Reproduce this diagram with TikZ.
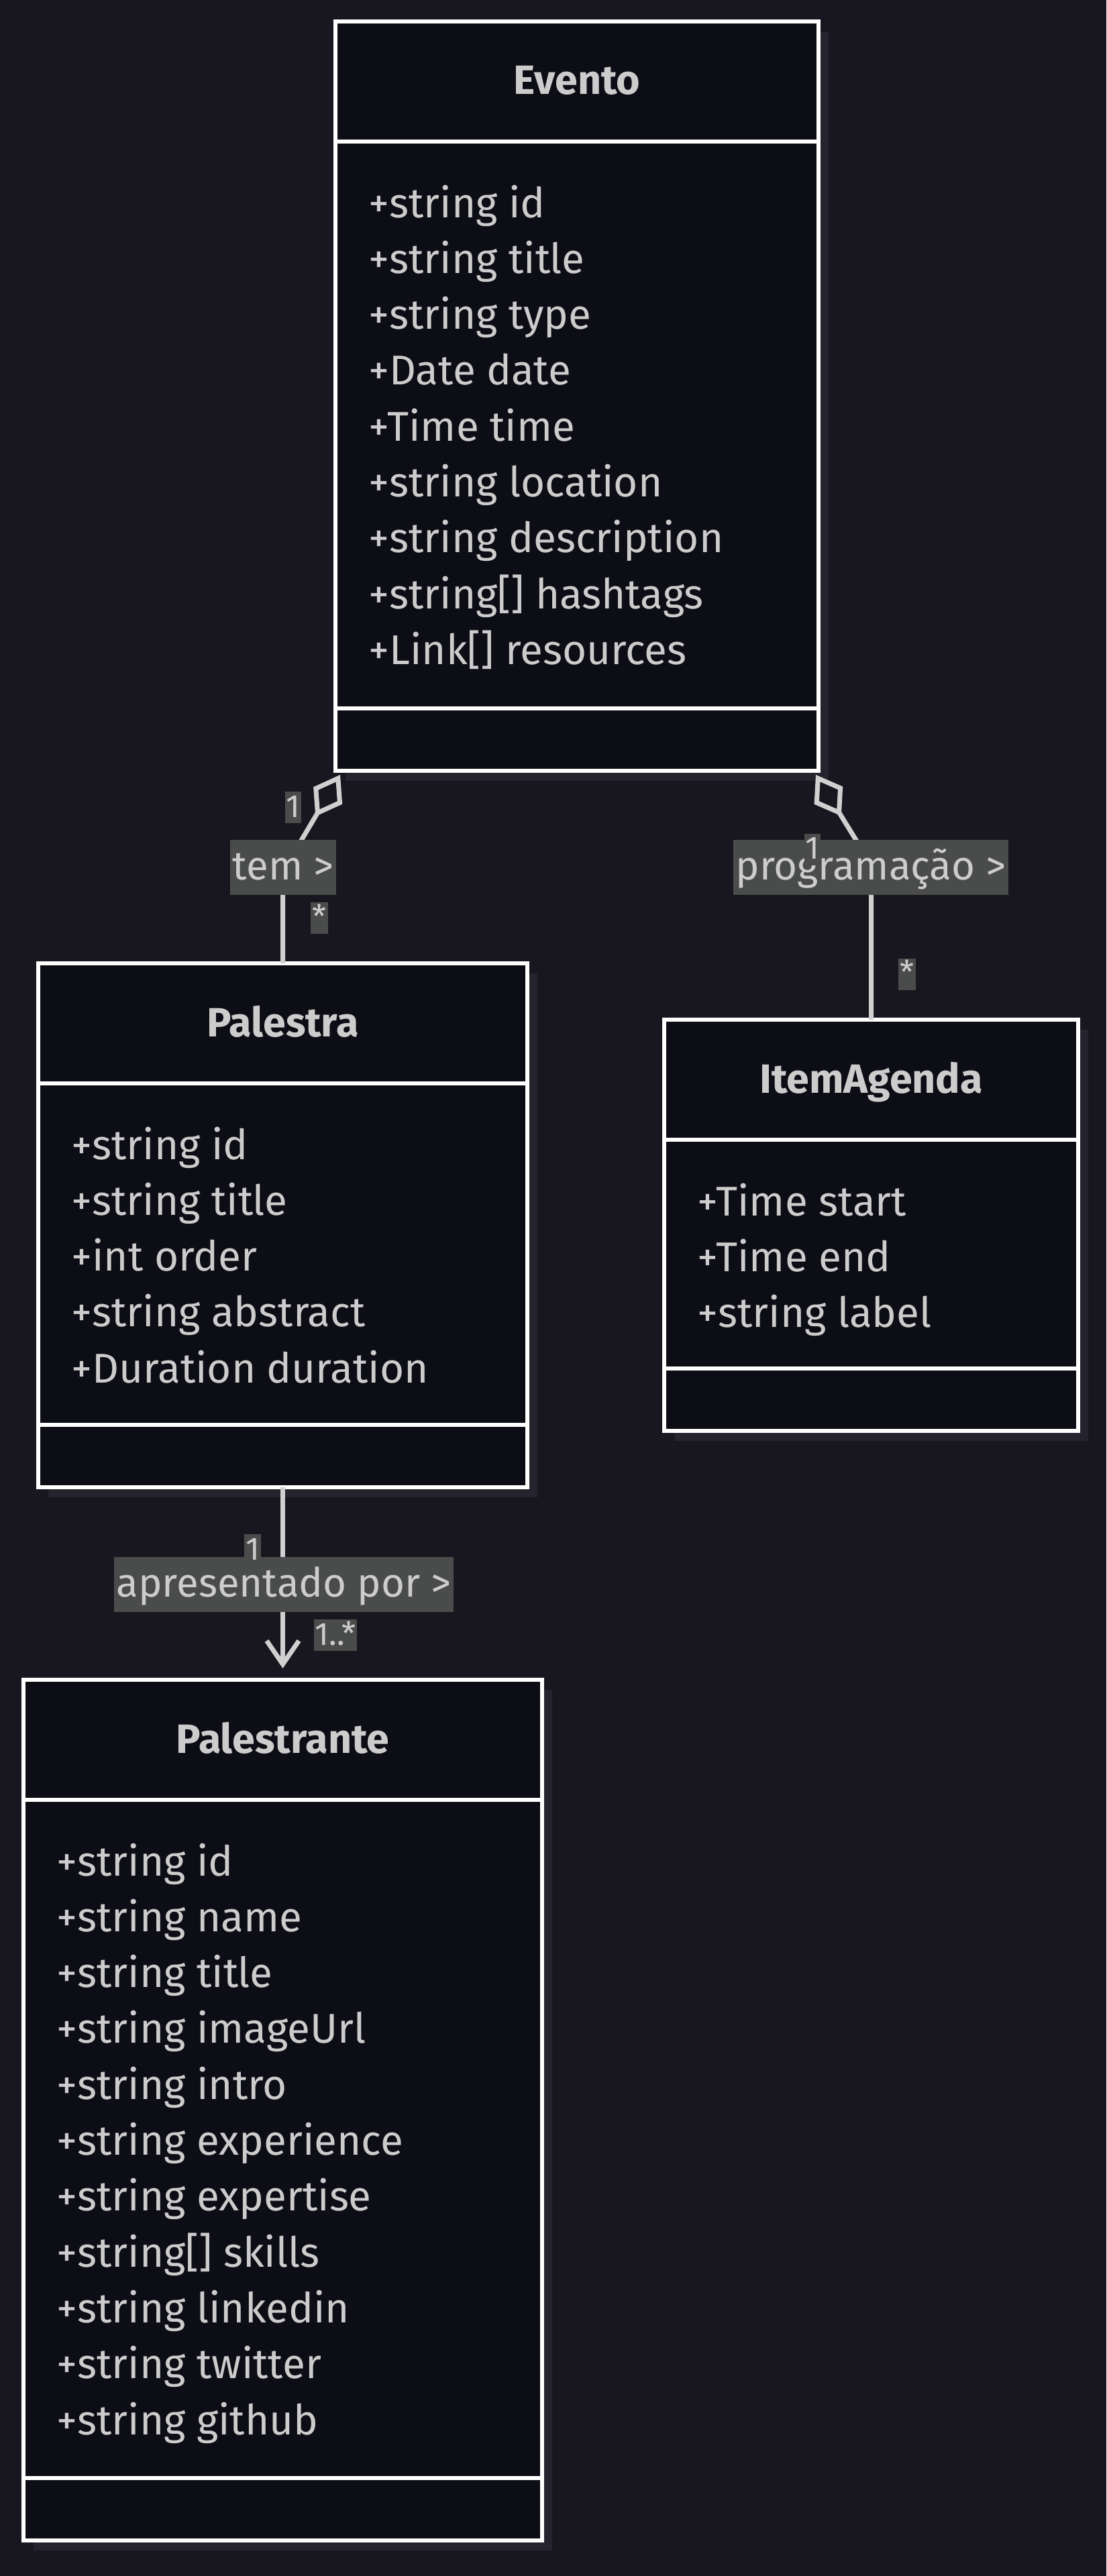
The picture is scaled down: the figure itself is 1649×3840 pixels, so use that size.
\documentclass[tikz,border=0pt]{standalone}
\usepackage{fontspec}
\setmainfont{Fira Sans}
\usetikzlibrary{arrows.meta,shadows}

\definecolor{bgcol}{HTML}{18171F}
\definecolor{boxfill}{HTML}{0D0D16}
\definecolor{shadowcol}{HTML}{25242E}
\definecolor{textcol}{HTML}{CCCCCC}
\definecolor{labelfill}{HTML}{4A4C4B}
\definecolor{linecol}{HTML}{D0D0D0}

\begin{document}
\begin{tikzpicture}[x=1pt,y=-1pt,
    classbox/.style={draw=white,line width=6pt,fill=boxfill,outer sep=0pt,inner sep=0pt,
      drop shadow={shadow xshift=15pt,shadow yshift=-15pt,fill=shadowcol,opacity=1}},
    divider/.style={draw=white,line width=6pt},
    classname/.style={anchor=base,text=textcol,font=\fontsize{61}{72}\selectfont\bfseries},
    attr/.style={anchor=base west,text=textcol,font=\fontsize{62}{72}\selectfont},
    assoc/.style={draw=linecol,line width=7pt},
    rel/.style={fill=labelfill,text=textcol,font=\fontsize{60}{72}\selectfont,
      text height=52pt,text depth=16pt,inner xsep=4pt,inner ysep=7pt},
    mult/.style={fill=labelfill,text=textcol,font=\fontsize{48}{56}\selectfont,
      text height=32pt,text depth=3pt,inner xsep=2pt,inner ysep=6pt}]
    \fill[bgcol] (0,0) rectangle (1649,3840);

    % Evento
    \node[classbox,minimum width=720pt,minimum height=1117pt] (evento) at (860,590.5) {};
    \draw[divider] ([yshift=-179pt]evento.north west) -- ([yshift=-179pt]evento.north east);
    \draw[divider] ([yshift=93pt]evento.south west) -- ([yshift=93pt]evento.south east);
    \node[classname] (evento-name) at ([yshift=-109pt]evento.north) {Evento};
    \foreach \field [count=\i] in {+string id,+string title,+string type,+Date date,+Time time,
        +string location,+string description,+string[] hashtags,+Link[] resources}
      \node[attr] (evento-\i) at ([xshift=46pt,yshift={-292pt-(\i-1)*83.3pt}]evento.north west) {\field};

    % Palestra
    \node[classbox,minimum width=729pt,minimum height=781pt] (palestra) at (421.5,1826.5) {};
    \draw[divider] ([yshift=-179pt]palestra.north west) -- ([yshift=-179pt]palestra.north east);
    \draw[divider] ([yshift=93pt]palestra.south west) -- ([yshift=93pt]palestra.south east);
    \node[classname] (palestra-name) at ([yshift=-109pt]palestra.north) {Palestra};
    \foreach \field [count=\i] in {+string id,+string title,+int order,+string abstract,+Duration duration}
      \node[attr] (palestra-\i) at ([xshift=46pt,yshift={-292pt-(\i-1)*83.3pt}]palestra.north west) {\field};

    % ItemAgenda
    \node[classbox,minimum width=617pt,minimum height=613pt] (itemagenda) at (1298.5,1826.5) {};
    \draw[divider] ([yshift=-179pt]itemagenda.north west) -- ([yshift=-179pt]itemagenda.north east);
    \draw[divider] ([yshift=93pt]itemagenda.south west) -- ([yshift=93pt]itemagenda.south east);
    \node[classname] (itemagenda-name) at ([yshift=-109pt]itemagenda.north) {ItemAgenda};
    \foreach \field [count=\i] in {+Time start,+Time end,+string label}
      \node[attr] (itemagenda-\i) at ([xshift=46pt,yshift={-292pt-(\i-1)*83.3pt}]itemagenda.north west) {\field};

    % Palestrante
    \node[classbox,minimum width=773pt,minimum height=1283pt] (palestrante) at (421.5,3145.5) {};
    \draw[divider] ([yshift=-179pt]palestrante.north west) -- ([yshift=-179pt]palestrante.north east);
    \draw[divider] ([yshift=93pt]palestrante.south west) -- ([yshift=93pt]palestrante.south east);
    \node[classname] (palestrante-name) at ([yshift=-109pt]palestrante.north) {Palestrante};
    \foreach \field [count=\i] in {+string id,+string name,+string title,+string imageUrl,+string intro,
        +string experience,+string expertise,+string[] skills,+string linkedin,+string twitter,+string github}
      \node[attr] (palestrante-\i) at ([xshift=46pt,yshift={-292pt-(\i-1)*83.3pt}]palestrante.north west) {\field};

    % relations
    \coordinate (ev-p) at ([xshift=7pt,yshift=-6pt]evento.south west);
    \coordinate (ev-i) at ([xshift=-4pt,yshift=-6pt]evento.south east);
    \draw[assoc,{Diamond[open,length=72pt,width=50pt]}-] (ev-p) -- (440,1268) -- (421.5,1300) -- (palestra.north);
    \draw[assoc,{Diamond[open,length=72pt,width=50pt]}-] (ev-i) -- (1290,1275) -- (1298.5,1300) -- (itemagenda.north);
    \draw[assoc,-{Straight Barb[length=35pt,width=48pt]},shorten >=17pt] (palestra.south) -- (palestrante.north);

    \node[rel] (tem) at (422,1293) {tem >};
    \node[rel] (programacao) at (1298,1293) {programação >};
    \node[rel] (apresentado) at (423,2362) {apresentado por >};

    \node[mult] (tem-1) at (437,1203.5) {1};
    \node[mult] (tem-n) at (476,1368.5) {*};
    \node[mult] (prog-1) at (1211,1266) {1};
    \node[mult] (prog-n) at (1352,1452) {*};
    \node[mult] (apres-1) at (376.5,2310.5) {1};
    \node[mult] (apres-n) at (500,2437.5) {1..*};
\end{tikzpicture}
\end{document}
